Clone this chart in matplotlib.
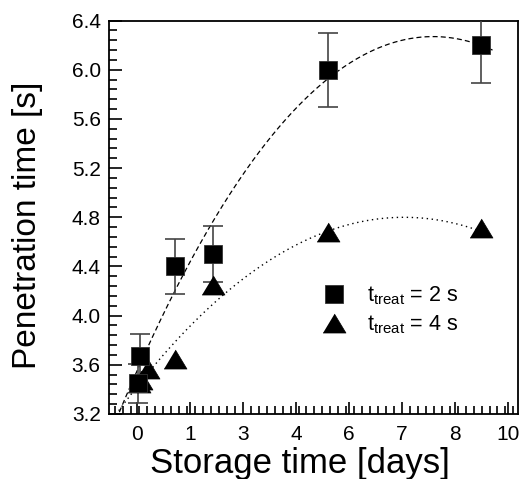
import numpy as np
import matplotlib
matplotlib.use("Agg")
import matplotlib.pyplot as plt
from matplotlib.lines import Line2D

plt.rcParams['font.family'] = ['Liberation Sans', 'DejaVu Sans']
plt.rcParams['mathtext.fontset'] = 'custom'
plt.rcParams['mathtext.rm'] = 'Liberation Sans'
plt.rcParams['mathtext.it'] = 'Liberation Sans'

# ---- data (x in days, axis coordinate) ----
x_2s = [0.04, 0.10, 1.02, 2.05, 5.14, 9.27]
y_2s = [3.45, 3.67, 4.40, 4.50, 6.00, 6.20]
err_2s = [0.16, 0.18, 0.22, 0.23, 0.30, 0.31]

x_4s = [0.05, 0.12, 0.30, 1.02, 2.05, 5.14, 9.27]
y_4s = [3.45, 3.48, 3.57, 3.65, 4.25, 4.68, 4.71]

# quadratic fit curves (vertex form: peak x, peak y, curvature) and ranges
fit_2s = dict(x0=7.98, y0=6.27, a=-0.0428, xmin=-0.8, xmax=9.63)
fit_4s = dict(x0=7.2, y0=4.80, a=-0.02664, xmin=-0.8, xmax=9.5)

xtick_pos = np.linspace(0, 10, 8)
xtick_labels = ['0', '1', '3', '4', '6', '7', '8', '10']
ytick_pos = [3.2, 3.6, 4.0, 4.4, 4.8, 5.2, 5.6, 6.0, 6.4]
ytick_labels = ['3.2', '3.6', '4.0', '4.4', '4.8', '5.2', '5.6', '6.0', '6.4']

labels = [r'$\mathregular{t_{treat}}$ = 2 s', r'$\mathregular{t_{treat}}$ = 4 s']

fig = plt.figure(figsize=(5.24, 4.79), dpi=100)
ax = fig.add_axes([0.208, 0.1357, 0.7815, 0.8213])

def curve(f):
    xx = np.linspace(f['xmin'], f['xmax'], 300)
    return xx, f['y0'] + f['a'] * (xx - f['x0']) ** 2

xx, yy = curve(fit_2s)
ax.plot(xx, yy, color='black', lw=0.9, ls=(0, (4, 2.5)), zorder=2)
xx, yy = curve(fit_4s)
ax.plot(xx, yy, color='black', lw=1.0, ls=(0, (1, 2.6)), zorder=2)

ax.errorbar(x_2s, y_2s, yerr=err_2s, fmt='none', ecolor='#444444',
            elinewidth=1.2, capsize=7, capthick=1.2, zorder=3)
tri = [(-1, -0.83), (1, -0.83), (0, 0.83)]
ax.plot(x_4s, y_4s, ls='none', marker=tri, ms=16.5, mfc='black',
        mec='black', mew=0.5, zorder=4)
ax.plot(x_2s, y_2s, ls='none', marker='s', ms=12.5, mfc='black',
        mec='#333333', mew=0.6, zorder=5)

ax.set_xlim(-0.746, 10.28)
ax.set_ylim(3.2, 6.4)
ax.set_xticks(xtick_pos)
ax.set_xticklabels(xtick_labels)
minor_x = np.linspace(-10/7, 80/7, 61)
minor_x = minor_x[(minor_x > -0.746) & (minor_x < 10.28)]
ax.set_xticks(minor_x, minor=True)
ax.set_yticks(ytick_pos)
ax.set_yticklabels(ytick_labels)
ax.set_yticks(np.arange(3.2, 6.41, 0.08), minor=True)

ax.tick_params(which='both', direction='in', top=False, right=False,
               labelsize=15, width=1.2, color='black')
ax.tick_params(which='major', length=9)
ax.tick_params(which='minor', length=6)
ax.tick_params(axis='y', pad=6)
ax.tick_params(axis='x', pad=8)
for s in ax.spines.values():
    s.set_linewidth(1.3)

ax.set_xlabel('Storage time [days]', fontsize=25)
ax.xaxis.set_label_coords(0.466, -0.083)
ax.set_ylabel('Penetration time [s]', fontsize=24)
ax.yaxis.set_label_coords(-0.16, 0.48)

h1 = Line2D([], [], ls='none', marker='s', ms=12.5, mfc='black', mec='#333333', mew=0.6)
h2 = Line2D([], [], ls='none', marker=tri, ms=16.5, mfc='black', mec='black', mew=0.5)
ax.legend([h1, h2], labels, loc='upper left', bbox_to_anchor=(0.518, 0.33),
          frameon=False, fontsize=15.5, handlelength=1.2, handletextpad=0.95,
          labelspacing=0.3, borderpad=0, borderaxespad=0)

fig.savefig('out.png', dpi=100)
